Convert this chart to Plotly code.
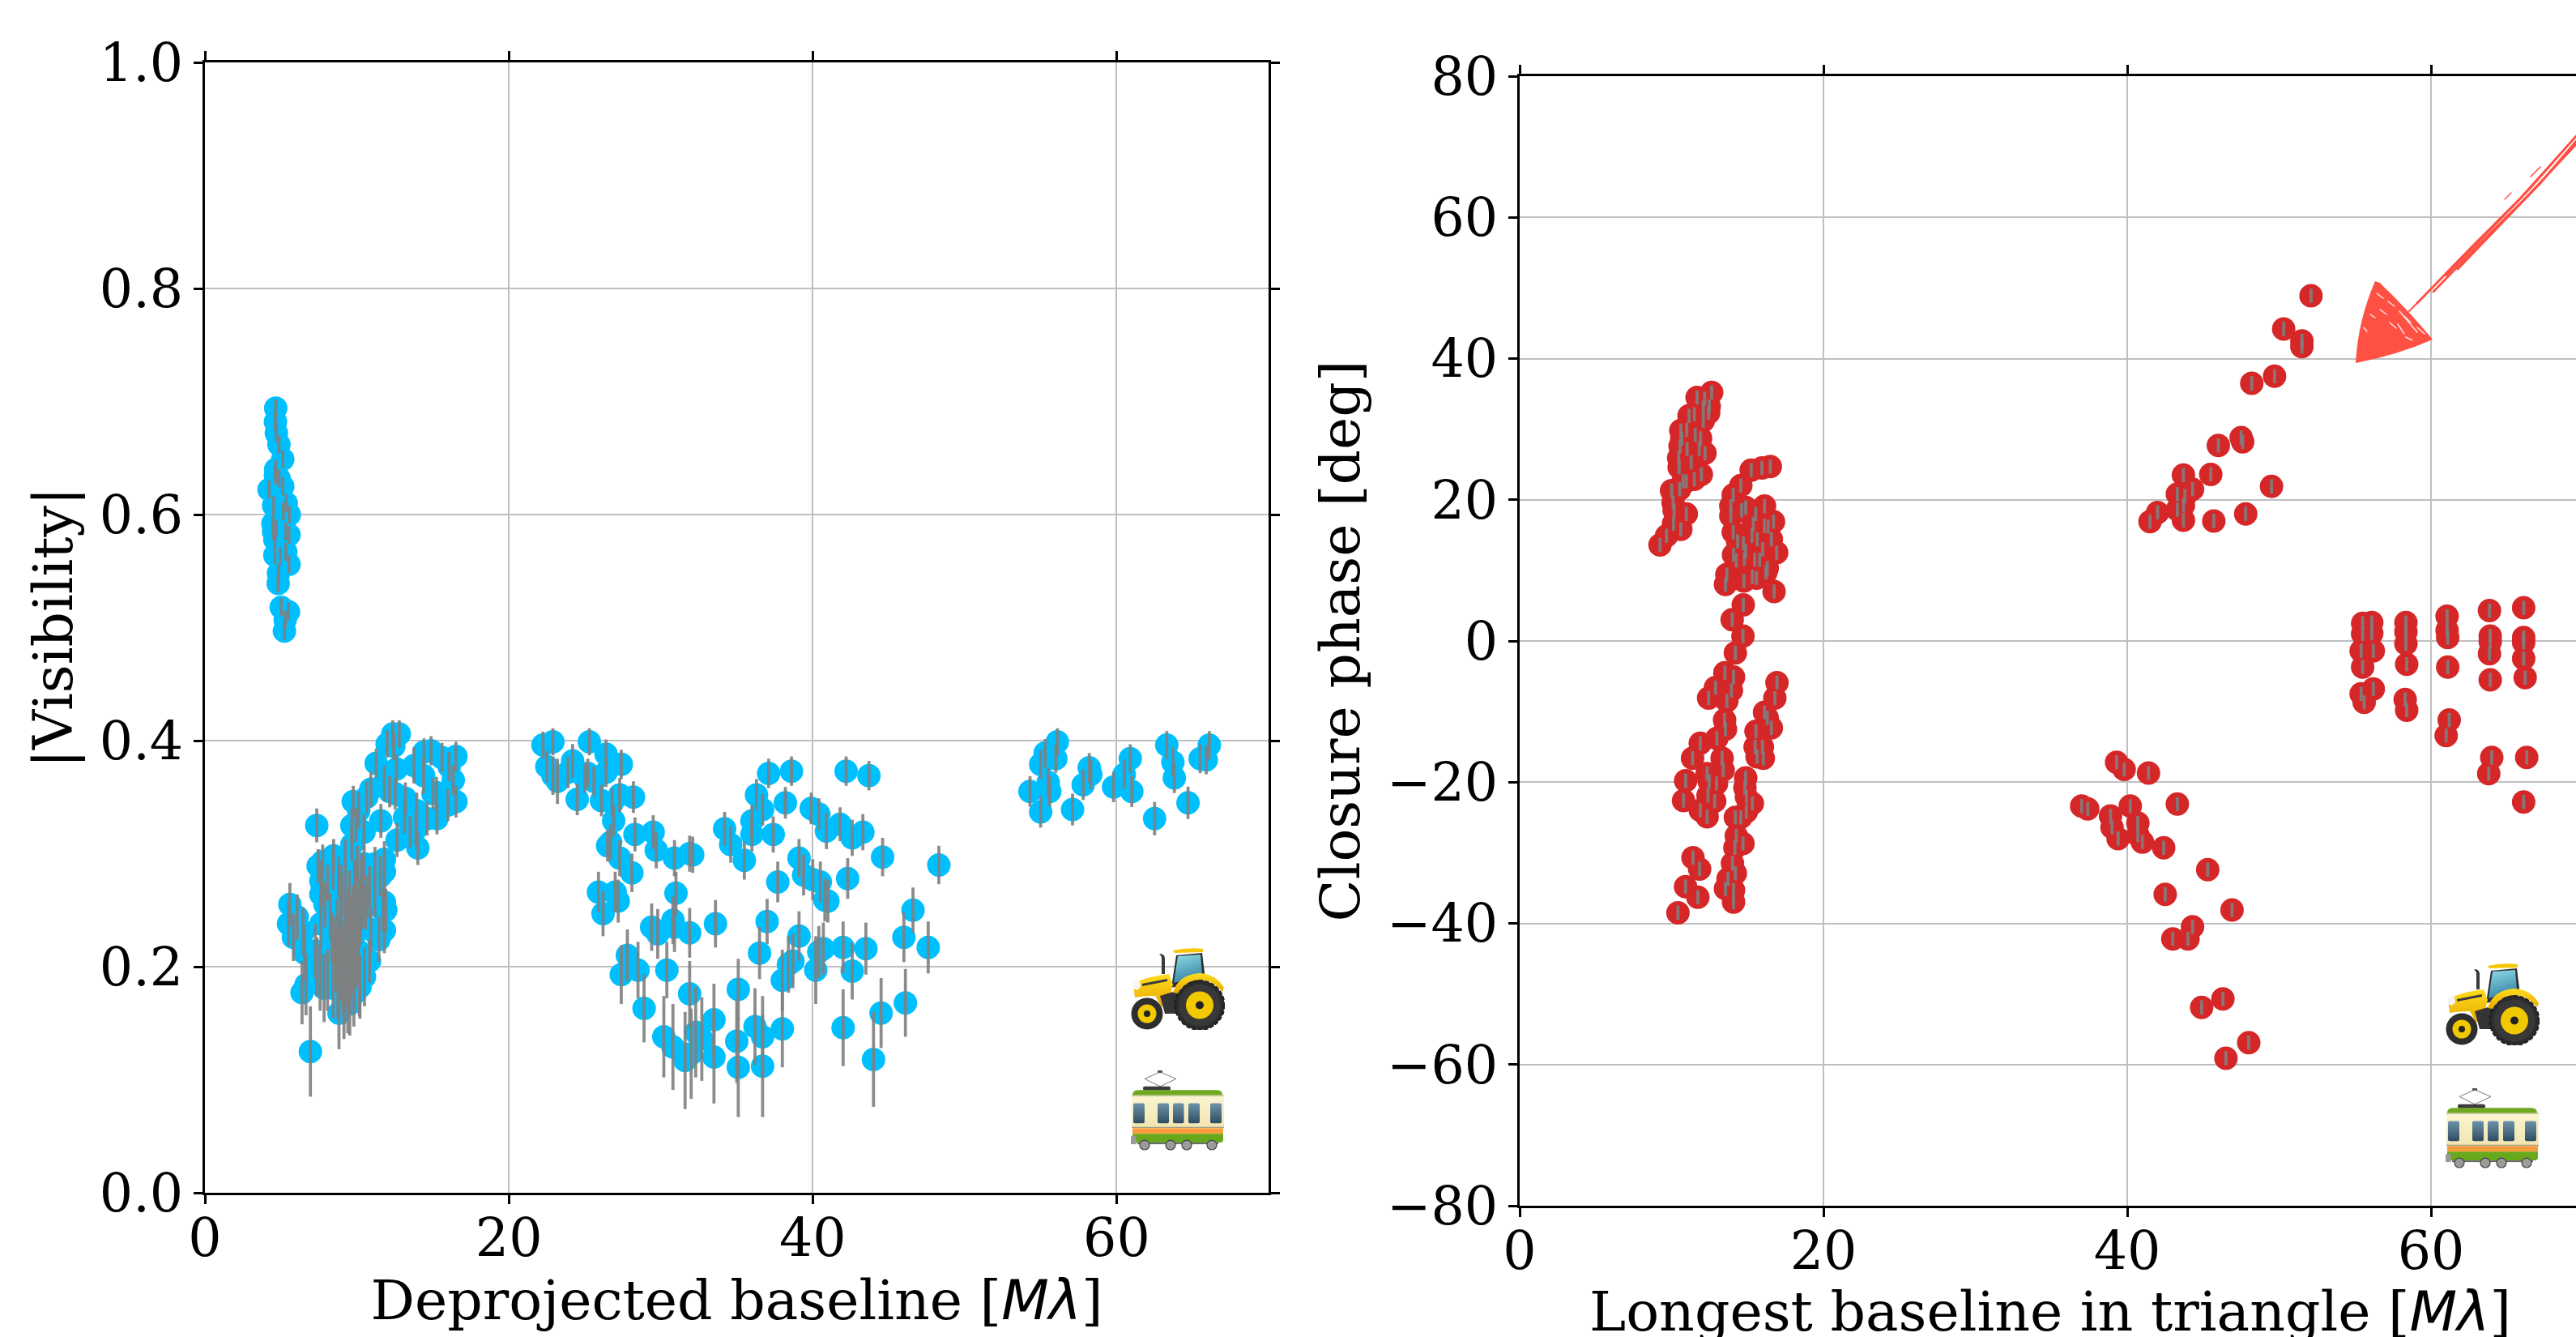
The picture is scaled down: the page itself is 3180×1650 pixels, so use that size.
import base64
import plotly.graph_objects as go

# Left panel: deprojected baseline [Mlambda], |visibility|, error
vis_x_a = [4.66,4.64,4.7,4.87,5.12,4.66,4.64,4.87,5.12,4.22,4.52,5.35,5.55,5.16,4.47,4.7,5.53,4.52,5.32,4.6,5.32,4.96,4.6,5.53,4.84,4.82,5.02,5.5,5.23,5.28]
vis_y_a = [.694,.682,.672,.662,.649,.64,.635,.632,.625,.622,.608,.61,.6,.603,.592,.588,.582,.585,.585,.578,.567,.563,.564,.556,.548,.539,.518,.514,.497,.507]
vis_e_a = [.008]*30

vis_x_b = [12.36,12.79,11.99,12.43,11.27,12.6,13.76,14.42,14.88,15.6,16.52,16.07,16.34,16.52,15.99,15.27,15.24,14.62,14.39,15.01,13.94,14.01,13.89,13.19,13.14,12.64,13.51,11.58,12.16,12.52,11.81,10.92,10.65,9.76,10.12,9.67,9.94,10.47,9.67,9.23,8.47,7.45,7.75,7.36,7.63,7.63,8.07,8.79,10.03,10.47,11.19,11.81,11.54,11.81,11.72,10.83,9.85,9.23]
vis_y_b = [.406,.406,.397,.395,.38,.375,.378,.39,.391,.385,.386,.377,.365,.346,.343,.331,.354,.331,.369,.353,.338,.305,.322,.349,.332,.312,.319,.329,.355,.353,.362,.357,.35,.346,.338,.325,.325,.319,.308,.297,.298,.289,.293,.325,.276,.264,.274,.279,.291,.291,.291,.295,.28,.257,.25,.271,.276,.264]
vis_e_b = [.012,.012,.012,.012,.013,.013,.016,.012,.013,.013,.013,.013,.013,.014,.014,.014,.014,.015,.016,.014,.016,.015,.015,.014,.014,.015,.014,.015,.014,.014,.016,.016,.014,.014,.016,.015,.015,.016,.015,.016,.015,.015,.015,.015,.018,.018,.016,.018,.016,.016,.015,.016,.018,.018,.018,.018,.018,.018]

vis_x_c = [5.59,5.5,6.07,5.82,6.47,6.56,6.39,6.65,6.94,7.27,7.36,7.58,7.84,8.07,7.63,7.9,8.25,8.34,8.61,8.43,8.82,9.18,9.53,8.96,9.41,9.85,10.17,9.76,8.96,9.5,9.94,10.21,10.56,10.92,10.03,10.83,11.45,11.81,11.9,11.19,11.81,10.3,8.96,8.43,7.72]
vis_y_c = [.255,.238,.244,.226,.231,.212,.177,.184,.125,.214,.2,.19,.181,.188,.238,.255,.245,.226,.21,.181,.159,.178,.167,.195,.195,.188,.183,.224,.238,.253,.272,.238,.253,.233,.21,.205,.224,.232,.25,.262,.284,.284,.272,.284,.272]
vis_e_c = [.019,.02,.02,.021,.021,.024,.028,.027,.04,.024,.026,.029,.03,.027,.02,.02,.02,.022,.025,.027,.032,.029,.028,.026,.026,.027,.027,.022,.02,.02,.018,.02,.02,.02,.025,.019,.02,.02,.019,.018,.016,.016,.018,.016,.018]

# densest part of the low-baseline clump, where single points cannot be told apart
vis_x_f = [8.6,8.8,9.05,9.2,9.45,9.6,9.85,10,10.25,8.75,9.1,9.3,9.55,9.7,9.95,10.1,8.5,8.9,9.25,9.6,10.05,10.4,10.7,9.15,9.4,9.8,10.2,10.5,8.7,9.35,9.75,10.15,9,9.5,9.9,10.35]
vis_y_f = [.203,.208,.212,.217,.222,.226,.231,.236,.242,.182,.186,.191,.196,.201,.207,.214,.221,.224,.232,.241,.249,.254,.262,.166,.171,.176,.182,.191,.239,.246,.252,.259,.262,.266,.271,.277]
vis_e_f = [.025,.025,.024,.024,.023,.023,.022,.022,.021,.028,.028,.027,.026,.025,.025,.024,.023,.023,.022,.021,.02,.02,.019,.03,.03,.029,.028,.026,.021,.021,.02,.02,.019,.019,.018,.018]

vis_x_d = [22.25,22.9,25.3,26.4,22.5,22.9,23.2,24.2,23.9,25,25.2,25.6,26.4,27.4,24.5,26.1,27.3,26.8,28.2,26.9,26.7,26.5,28.3,29.5,29.7,27.3,28.1,30.9,31.9,32.1,31,25.9,27,27.2,26.2,29.4,29.8,30.8,30.9,31.9,33.6,27.8,27.4,28.5,30.4,28.9,31.9,30.2,30.8,31.6,32,32.3,32.7,33.5,33.5,35.1,35,35.1,36.2,36.7,36.7,38,38,38.4,38.7,36.5,37,39.1,40.2,40.4,40.7,42,42.6,43.5,46,47.6,46.6,46.1,44.5,42,44,37.7,39.1,39.4,40,40.5,40.8,41,42.3,44.6,48.3,43.3,42.6,41.8,40.9,40.4,39.9,42.2,43.7,38.6,37.1,38.2,36.3,36.7,36,36,37.4,34.2,34.6,35.5]
vis_y_d = [.396,.399,.399,.388,.377,.369,.364,.382,.372,.367,.371,.364,.372,.379,.348,.347,.352,.345,.35,.329,.31,.307,.317,.319,.303,.296,.283,.296,.3,.299,.265,.266,.266,.258,.247,.235,.229,.241,.235,.23,.238,.21,.193,.197,.197,.163,.176,.138,.129,.117,.123,.142,.136,.153,.12,.18,.134,.111,.147,.138,.112,.145,.188,.202,.205,.212,.24,.227,.197,.213,.216,.217,.196,.216,.226,.217,.25,.168,.159,.146,.118,.275,.296,.281,.277,.275,.259,.258,.278,.297,.29,.319,.314,.326,.32,.335,.34,.373,.369,.373,.371,.345,.352,.339,.329,.317,.317,.322,.308,.294]
vis_e_d = [.012,.012,.012,.013,.014,.017,.02,.015,.014,.013,.013,.013,.013,.013,.014,.014,.015,.013,.014,.014,.016,.014,.015,.015,.016,.016,.017,.016,.016,.016,.019,.018,.018,.019,.02,.021,.022,.021,.022,.022,.021,.023,.026,.025,.025,.03,.029,.036,.038,.043,.04,.04,.037,.032,.041,.027,.037,.044,.034,.036,.045,.034,.027,.025,.024,.023,.02,.022,.03,.023,.023,.023,.025,.023,.022,.023,.02,.03,.031,.034,.042,.018,.017,.018,.018,.018,.019,.019,.018,.017,.017,.016,.016,.015,.016,.014,.014,.013,.013,.013,.013,.014,.014,.014,.014,.015,.016,.015,.016,.017]

vis_x_e = [56.1,56,55.3,55,55.5,55.6,54.3,55,57.1,57.8,58.2,58.3,59.8,60.5,60.9,61,63.3,63.7,63.8,64.7,62.5,65.5,65.9,66.1]
vis_y_e = [.399,.384,.389,.379,.363,.355,.355,.337,.339,.361,.376,.37,.359,.37,.384,.355,.396,.381,.367,.345,.331,.384,.383,.396]
vis_e_e = [.012,.0125,.0125,.013,.0135,.0135,.0135,.014,.014,.0135,.013,.013,.0135,.013,.0128,.0138,.0125,.013,.0134,.0143,.0148,.0128,.0128,.0125]

# Right panel: longest baseline [Mlambda], closure phase [deg]
cp_x_a = [52.1,50.3,51.5,51.5,49.7,48.2,47.5,47.6,46,45.5,43.7,44.3,43.3,43.8,49.5,43.3,43.7,43.7,42,41.5,45.7,47.8]
cp_y_a = [48.9,44.2,42.5,41.7,37.5,36.5,28.8,28.2,27.7,23.6,23.5,21.5,20.8,20.5,21.9,18.6,19.2,17.1,18.2,16.9,17,18]

cp_x_b = [55.5,55.5,55.4,55.5,55.4,55.6,56.1,56.1,56.2,56.2,58.35,58.35,58.35,58.4,58.3,58.4,61.06,61.06,61.1,61.1,61.2,61,63.85,63.9,63.9,63.85,63.9,64,63.8,66.1,66.1,66.1,66.1,66.2,66.3,66.1]
cp_y_b = [2.5,1,-1.4,-3.7,-7.5,-8.7,2.6,1.1,-1.4,-6.8,2.6,1.3,-.4,-3.3,-8.3,-9.8,3.5,1.5,.5,-3.7,-11.2,-13.4,4.3,.7,-.1,-1.8,-5.5,-16.5,-18.8,4.7,.5,-.2,-2.5,-5.2,-16.5,-22.8]

cp_x_c = [39.3,39.8,41.4,37,37.4,40.2,43.3,38.9,39,40.7,40.7,39.4,41,42.4,45.3,42.5,46.9,44.3,44,43,46.3,44.9,48,46.5]
cp_y_c = [-17.2,-18.2,-18.7,-23.4,-23.8,-23.4,-23.1,-24.8,-26.4,-25.8,-27.5,-28,-28.5,-29.3,-32.4,-35.9,-38.1,-40.5,-42.2,-42.2,-50.7,-51.9,-56.9,-59.1]

cp_x_d = [12.64,11.68,12.18,12.48,12.09,11.5,11.15,12.44,12.09,11,10.61,11.56,10.67,11.91,10.56,11.02,11.82,12.2,10.47,11.29,10.5,11.96,11.5,10.97,10.76,10,10.53,10.1,10.17,10.97,10.13,10.61,9.67,9.24]
cp_y_d = [35.2,34.5,34.3,33.2,33.1,32.1,31.9,32.3,31.2,29.9,29.8,29.2,28.7,28.7,27.6,27.2,27.2,26.6,25.9,25.3,24.6,23.6,22.9,22.6,22.6,21.3,21.5,19.6,18.5,18,16.6,15.8,14.9,13.6]

cp_x_e = [16.5,15.95,15.24,14.56,14.06,13.9,16.12,14.88,14.61,13.9,15.54,15.38,16.71,16.12,16.36,14.06,15.29,15.64,16.57,14.35,14.73,16.92,16,14.08,14.88,14.26,14.79,15.47,15.8,16.3,15.32,15.59,16.21,14.76,13.64,13.55,16.75,14.72,13.99,14.7,14.2]
cp_y_e = [24.7,24.5,24.2,22,20.7,19.1,19.1,18.9,18.5,17.7,18,16.6,16.9,16.3,16.2,15.4,14.9,14.4,14.4,14.1,13.8,12.5,13,12.2,12.7,11.4,11.6,11.5,11.5,10.3,9.1,8.9,9.7,8.5,9.4,8,7,5.1,3,.7,-1.7]

cp_x_f = [13.51,14.08,12.89,13.94,12.44,13.64,16.94,16.8,16.12,16.3,16.57,13.49,13.55,12.98,15.56,11.89,15.5,15.63,15.98,16.04,13.33,11.38,13.4,12.34,10.93,12.48,12.96,14.88,14.83,14.93,15.32,10.79,12.4,12.84,11.89,12.34,14.92,14.2,14.56,14.26,14.7,14.17,11.41,11.85,14.01,14.2,13.72,10.92,11.73,13.55,14.08,14.08,10.42]
cp_y_f = [-4.5,-5.1,-6.6,-7,-8.1,-8.5,-5.9,-8.1,-10.1,-10.9,-12.3,-11.2,-12.5,-13.8,-12.8,-14.5,-15,-16.4,-15,-16.6,-16.6,-16.6,-18.3,-18.8,-19.8,-19.9,-20.2,-19.4,-20.8,-22.1,-23,-22.6,-21.9,-22.7,-24,-24.9,-24.2,-25,-25,-27.6,-28.7,-29.3,-30.7,-32.3,-31.5,-32.9,-33.7,-34.8,-36.3,-35.1,-35.3,-37,-38.5]

cp_err_deg = 1.0

x_ticks = [0, 20, 40, 60]
vis_ticks = [0.0, 0.2, 0.4, 0.6, 0.8, 1.0]
cp_ticks = [-80, -60, -40, -20, 0, 20, 40, 60, 80]

vis_x = vis_x_a + vis_x_b + vis_x_c + vis_x_f + vis_x_d + vis_x_e
vis_y = vis_y_a + vis_y_b + vis_y_c + vis_y_f + vis_y_d + vis_y_e
vis_e = vis_e_a + vis_e_b + vis_e_c + vis_e_f + vis_e_d + vis_e_e
cp_x = cp_x_a + cp_x_b + cp_x_c + cp_x_d + cp_x_e + cp_x_f
cp_y = cp_y_a + cp_y_b + cp_y_c + cp_y_d + cp_y_e + cp_y_f

W, H = 3180, 1650
SERIF = "DejaVu Serif"
FS_TICK = 65
FS_LABEL = 68
GREY = "rgba(128,128,128,0.9)"
GRID = "#bfbfbf"
MARKER = 29
BAR = 3.8


def svg_uri(s):
    return "data:image/svg+xml;base64," + base64.b64encode(s.encode()).decode()


TRACTOR = """<svg xmlns="http://www.w3.org/2000/svg" viewBox="0 0 116 102" width="464" height="408">
<defs>
<linearGradient id="g" x1="0" y1="0" x2="0.3" y2="1"><stop offset="0" stop-color="#8fdde6"/><stop offset="1" stop-color="#3a86a8"/></linearGradient>
<linearGradient id="y" x1="0" y1="0" x2="0" y2="1"><stop offset="0" stop-color="#ffdc1e"/><stop offset="1" stop-color="#e8a800"/></linearGradient>
</defs>
<path d="M38 33 L38 14 Q38 10 35 9 L37 8 Q42 9 42 14 L42 33Z" fill="#3a3a3a"/>
<path d="M50 50 L56 10 L88 7 L92 40Z" fill="#2e2e2e"/>
<path d="M53 44 L58 11 L86 9 L88 33 Q70 34 60 42Z" fill="url(#g)"/>
<path d="M52 4 Q70 0 89 2 L89 6 L54 7Z" fill="#f7c600"/>
<path d="M3 45 Q20 36 47 33 L52 46 L48 62 L38 74 L30 60 Q15 60 5 62Z" fill="url(#y)"/>
<path d="M14 45 L45 39 L45 42 L14 48Z" fill="#3a3a3a"/>
<path d="M3 43 L11 42 L12 49 L8 53 L3 51Z" fill="#f6f6f6"/>
<path d="M36 60 L62 52 L70 82 L42 82Z" fill="#353535"/>
<circle cx="85" cy="71.5" r="30.5" fill="#2b2b2b" stroke="#1c1c1c" stroke-width="2" stroke-dasharray="5 2.5"/>
<circle cx="85" cy="71.5" r="26" fill="#383838"/>
<circle cx="85" cy="71.5" r="17" fill="#f2c800"/>
<circle cx="85" cy="71.5" r="5" fill="#222"/>
<path d="M52 56 Q58 34 85 32 Q105 33 115 50 L113 55 Q100 40 85 40 Q67 41 58 57Z" fill="url(#y)"/>
<circle cx="20" cy="82" r="19.5" fill="#2e2e2e"/>
<circle cx="20" cy="82" r="11.5" fill="#f2c800"/>
<circle cx="20" cy="82" r="4" fill="#222"/>
</svg>"""

TRAM = """<svg xmlns="http://www.w3.org/2000/svg" viewBox="0 0 116 102" width="464" height="408">
<defs>
<linearGradient id="w" x1="0" y1="0" x2="0" y2="1"><stop offset="0" stop-color="#6e93aa"/><stop offset="1" stop-color="#2f4c60"/></linearGradient>
<linearGradient id="c" x1="0" y1="0" x2="0" y2="1"><stop offset="0" stop-color="#fbf5d2"/><stop offset="1" stop-color="#f1e4ae"/></linearGradient>
</defs>
<path d="M17 11.5 L36 3 L56 11.5 L36 21Z" fill="none" stroke="#777" stroke-width="1"/>
<rect x="33" y="1" width="6" height="3" fill="#555"/>
<rect x="15" y="21" width="34" height="5" rx="2" fill="#3b3b3b"/>
<path d="M2 32 Q2 25.5 9 25.5 L106 25.5 Q113 25.5 113 32Z" fill="#6fa91f"/>
<rect x="1" y="32" width="114" height="41" fill="url(#c)"/>
<rect x="0.5" y="32" width="115" height="1" fill="#b5ad85"/>
<rect x="3" y="42" width="14" height="25" rx="2" fill="url(#w)"/>
<rect x="33" y="42" width="14" height="25" rx="2" fill="url(#w)"/>
<rect x="52" y="42" width="13.5" height="25" rx="2" fill="url(#w)"/>
<rect x="71" y="42" width="14" height="25" rx="2" fill="url(#w)"/>
<rect x="98" y="42" width="14" height="25" rx="2" fill="url(#w)"/>
<rect x="1" y="71.5" width="114" height="1" fill="#8d8d7a"/>
<rect x="2" y="73" width="112" height="7" fill="#f89c3c"/>
<path d="M2 80 L114 80 L114 87 Q114 91 109 91 L7 91 Q2 91 2 87Z" fill="#67a81d"/>
<rect x="0" y="83" width="6.5" height="10" fill="#9a9a9a"/>
<rect x="8" y="91" width="100" height="2" fill="#666"/>
<g fill="#9b9b9b" stroke="#444" stroke-width="1.2">
<circle cx="17" cy="94" r="6"/><circle cx="49" cy="94" r="6"/><circle cx="69" cy="94" r="6"/><circle cx="100" cy="94" r="6"/>
</g>
</svg>"""

ARROW = """<svg xmlns="http://www.w3.org/2000/svg" viewBox="2890 150 290 310" width="290" height="310">
<g fill="none" stroke="#ff5044" stroke-linecap="round">
<path d="M2974 384 L2998 360 L3040 316" stroke-width="2"/>
<path d="M2984 374 L3052 304 L3112 244 L3182 166" stroke-width="2.8"/>
<path d="M3004 360 L3062 300 L3122 240 L3184 174" stroke-width="2.8"/>
<path d="M3020 340 L3070 288 L3124 232 L3180 168" stroke-width="2.4"/>
<path d="M3034 332 L3084 280 L3136 226 L3182 172" stroke-width="2.8"/>
<path d="M3124 218 L3136 206" stroke-width="1.6"/>
<path d="M3092 246 L3100 238" stroke-width="1.4"/>
</g>
<path d="M2908 448 Q2911 395 2932 347 L2938 349 Q2975 385 3003 419 Q2960 438 2908 448Z" fill="#ff5044"/>
<g fill="none" stroke="#ffffff" stroke-width="1.4" stroke-linecap="round" opacity="0.85">
<path d="M2962 384 L2984 410"/><path d="M2934 362 L2942 368"/><path d="M2950 398 L2958 405"/><path d="M2926 388 L2932 392"/>
<path d="M2948 372 L2956 378"/><path d="M2960 400 L2968 412"/><path d="M2984 404 L2993 412"/><path d="M2918 404 L2922 409"/>
<path d="M2968 390 L2976 398"/><path d="M2938 382 L2946 388"/><path d="M2942 352 L2948 358"/><path d="M2970 416 L2978 420"/>
</g>
</svg>"""

fig = go.Figure()
fig.add_trace(go.Scatter(x=vis_x, y=vis_y, mode="markers", xaxis="x", yaxis="y",
                         marker=dict(size=MARKER, color="#00bfff", line=dict(width=0)),
                         showlegend=False))
fig.add_trace(go.Scatter(x=vis_x, y=vis_y, mode="markers", xaxis="x", yaxis="y",
                         marker=dict(size=1, opacity=0),
                         error_y=dict(type="data", array=vis_e, color=GREY, thickness=BAR, width=0),
                         showlegend=False))
fig.add_trace(go.Scatter(x=cp_x, y=cp_y, mode="markers", xaxis="x2", yaxis="y2",
                         marker=dict(size=MARKER, color="#d62728", line=dict(width=0)),
                         showlegend=False))
fig.add_trace(go.Scatter(x=cp_x, y=cp_y, mode="markers", xaxis="x2", yaxis="y2",
                         marker=dict(size=1, opacity=0),
                         error_y=dict(type="data", array=[cp_err_deg] * len(cp_x), color=GREY,
                                      thickness=BAR, width=0),
                         showlegend=False))

axis_style = dict(showline=True, linecolor="black", linewidth=2.6, ticks="outside",
                  ticklen=11, tickwidth=2.6, tickcolor="black", showgrid=True,
                  gridcolor=GRID, gridwidth=2.4, zeroline=False, automargin=False,
                  tickfont=dict(family=SERIF, size=FS_TICK, color="black"))
ML = '<span style="font-family:\'DejaVu Sans\'"><i>Mλ</i></span>'


def title(text, standoff):
    return dict(text=text, font=dict(family=SERIF, size=FS_LABEL, color="black"), standoff=standoff)


def img(uri, x0, y0, x1, y1):
    return dict(source=uri, xref="paper", yref="paper", x=x0 / W, y=1 - y0 / H,
                sizex=(x1 - x0) / W, sizey=(y1 - y0) / H, xanchor="left", yanchor="top",
                sizing="stretch", layer="above")


fig.update_layout(
    width=W, height=H, margin=dict(l=0, r=0, t=0, b=0), autosize=False,
    template="none", paper_bgcolor="white", plot_bgcolor="white",
    xaxis=dict(domain=[253 / W, 1566 / W], range=[0, 70], tickvals=x_ticks, ticklabelstandoff=-14,
               mirror="ticks", anchor="y", title=title(f"Deprojected baseline [{ML}]", 12), **axis_style),
    yaxis=dict(domain=[(H - 1472) / H, (H - 77) / H], range=[0, 1], tickvals=vis_ticks,
               tickformat=".1f", mirror="ticks", anchor="x", title=title("|Visibility|", 12), **axis_style),
    xaxis2=dict(domain=[1876 / W, 1], range=[0, (W - 1876) / 18.75], tickvals=x_ticks, ticklabelstandoff=-14,
                mirror="ticks", anchor="y2", **axis_style),
    yaxis2=dict(domain=[(H - 1488) / H, (H - 94) / H], range=[-80, 80], tickvals=cp_ticks,
                anchor="x2", title=title("Closure phase [deg]", 12), **axis_style),
    annotations=[dict(text=f"Longest baseline in triangle [{ML}]", xref="paper", yref="paper",
                      x=2531 / W, y=(H - 1618) / H, xanchor="center", yanchor="middle",
                      showarrow=False, font=dict(family=SERIF, size=FS_LABEL, color="black"))],
    images=[
        img(svg_uri(TRACTOR), 1396, 1169, 1512, 1271),
        img(svg_uri(TRAM), 1396, 1320, 1512, 1421),
        img(svg_uri(TRACTOR), 3019, 1188, 3135, 1290),
        img(svg_uri(TRAM), 3019, 1342, 3135, 1443),
        img(svg_uri(ARROW), 2890, 150, 3180, 460),
    ],
)

fig.write_html("out.html", config={"displayModeBar": False},
               post_script="document.body.style.margin='0';document.documentElement.style.overflow='hidden';")
